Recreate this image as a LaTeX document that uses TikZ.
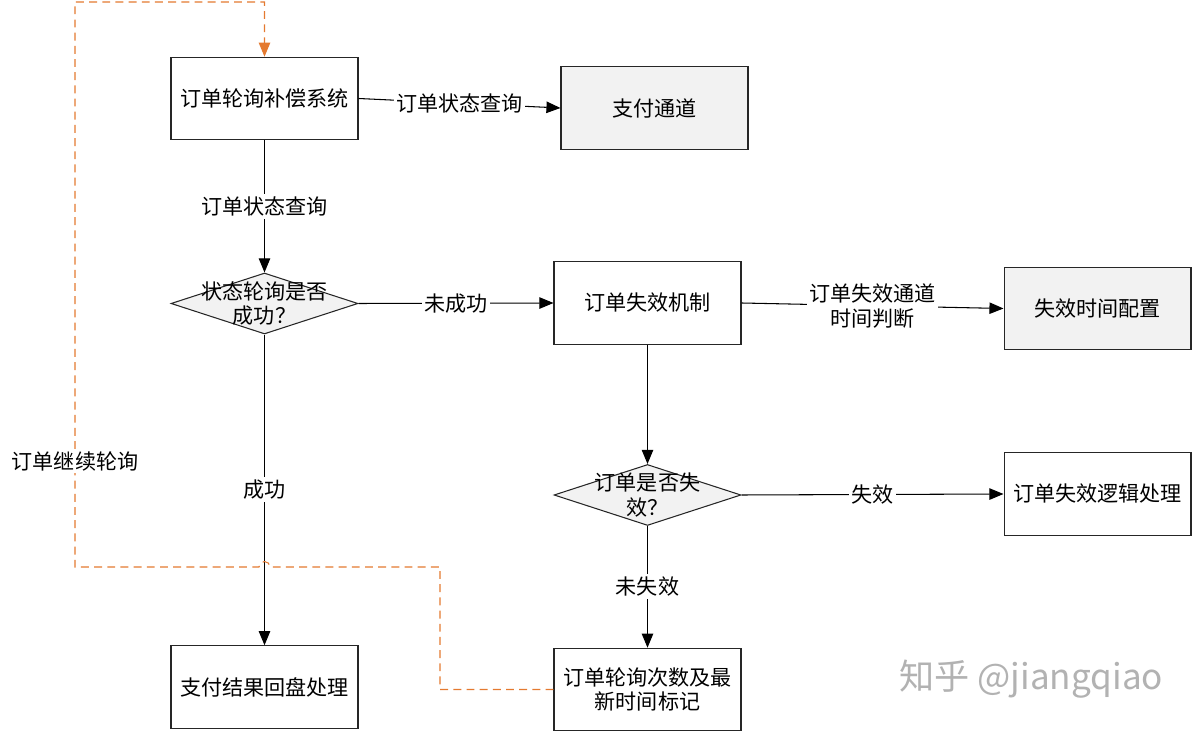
\documentclass[tikz,border=0pt]{standalone}
\usepackage{fontspec}
\newfontfamily\cjk{Noto Sans CJK SC}
\usetikzlibrary{shapes.geometric,arrows.meta}
\definecolor{boxgray}{RGB}{242,242,242}
\definecolor{loopcol}{RGB}{228,122,48}
\tikzset{
  box/.style={draw=black!85, line width=0.6pt, minimum width=3.74cm,
    minimum height=1.65cm, align=center, inner sep=2pt},
  graybox/.style={box, fill=boxgray},
  dia/.style={diamond, draw=black!85, line width=0.6pt, fill=boxgray,
    minimum width=3.74cm, minimum height=1.22cm, inner sep=0pt},
  diatext/.style={align=center, inner sep=0pt},
  flow/.style={line width=0.6pt, -{Triangle[length=8pt,width=6.5pt]}},
  lbl/.style={fill=white, inner sep=1.5pt, align=center},
  loopline/.style={draw=loopcol, line width=0.6pt, dash pattern=on 4.5pt off 3pt,
    -{Triangle[length=8pt,width=6.5pt]}},
}
\begin{document}
\begin{tikzpicture}[x=0.02cm, y=-0.02cm, font=\cjk\fontsize{12}{14}\selectfont]
\useasboundingbox (0,0) rectangle (1194,732);
\node[box] (poll) at (264.5, 98.5) {订单轮询补偿系统};
\node[graybox] (pay) at (654.5, 108) {支付通道};
\node[dia] (ok) at (264.5, 303.5) {};
\node[diatext] (oktext) at (ok) {状态轮询是否\\成功？};
\node[box] (expire) at (647.5, 303) {订单失效机制};
\node[graybox] (conf) at (1097.5, 308.5) {失效时间配置};
\node[dia] (isexp) at (647.5, 495) {};
\node[diatext] (isexptext) at (isexp) {订单是否失\\效？};
\node[box] (expproc) at (1097.5, 494) {订单失效逻辑处理};
\node[box] (mark) at (647.5, 689.5) {订单轮询次数及最\\新时间标记};
\node[box] (result) at (264.5, 687) {支付结果回盘处理};

\draw[flow] (poll.east) -- (pay.west) node[lbl, midway] {订单状态查询};
\draw[flow] (poll.south) -- (ok.north) node[lbl, midway] {订单状态查询};
\draw[flow] (ok.east) -- (expire.west) node[lbl, midway] {未成功};
\draw[flow] (expire.east) -- (conf.west) node[lbl, midway] {订单失效通道\\时间判断};
\draw[flow] (expire.south) -- (isexp.north);
\draw[flow] (isexp.east) -- (expproc.west) node[lbl, midway] {失效};
\draw[flow] (isexp.south) -- (mark.north) node[lbl, midway] {未失效};
\draw[flow] (ok.south) -- (result.north) node[lbl, midway] {成功};

\draw[loopline] (mark.west) -- (440, 689.5) -- (440, 567) -- (270, 567)
  arc (0:-180:5.5) -- (75, 567) -- (75, 2) -- (264.5, 2) -- (poll.north);
\node[lbl] (cont) at (75, 461) {订单继续轮询};

\node[text=black!30, font=\cjk\fontsize{20}{20}\selectfont, anchor=west, inner sep=0pt]
  (wm) at (899, 679) {知乎 @jiangqiao};
\end{tikzpicture}
\end{document}
